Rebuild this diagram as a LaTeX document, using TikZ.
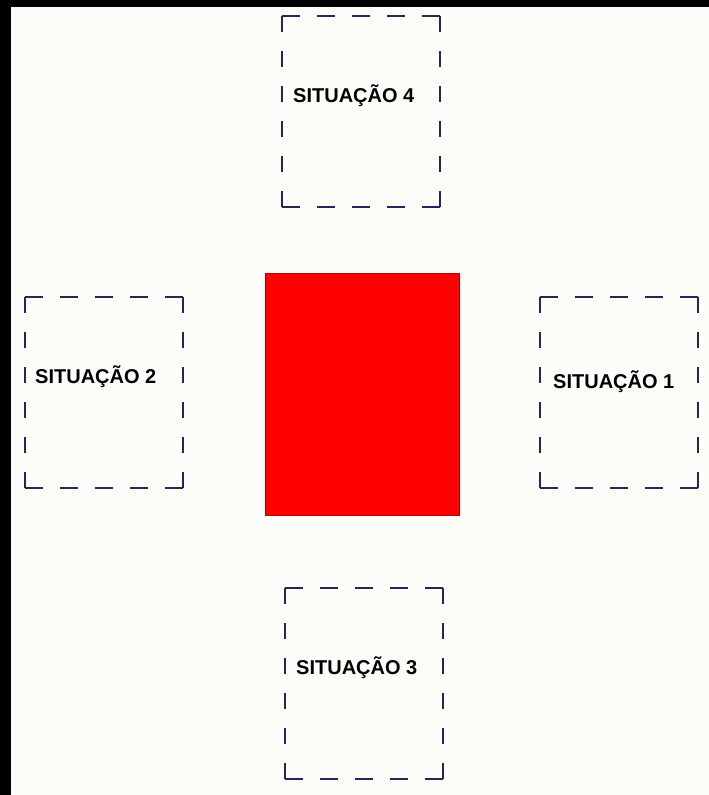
\documentclass[tikz,border=0pt]{standalone}
\usepackage{fontspec}
\setmainfont{Liberation Sans}
\definecolor{bgc}{HTML}{FCFDF8}
\definecolor{dashc}{HTML}{25255A}
\definecolor{redc}{HTML}{FF0000}
\newcommand\sitsides[1]{%
  \draw[hside] (#1.north west) -- (#1.north east);
  \draw[hside] (#1.south west) -- (#1.south east);
  \draw[vside] (#1.north west) -- (#1.south west);
  \draw[vside] (#1.north east) -- (#1.south east);}
\begin{document}
\begin{tikzpicture}[x=1pt,y=-1pt,
  sitbox/.style={rectangle,minimum width=158pt,minimum height=191pt,inner sep=0pt,outer sep=0pt,anchor=north west},
  hside/.style={draw=dashc,line width=2pt,line cap=butt,dash pattern=on 18pt off 17pt},
  vside/.style={draw=dashc,line width=2pt,line cap=butt,dash pattern=on 16pt off 19pt},
  lbl/.style={anchor=west,inner sep=0pt,font=\fontsize{20}{24}\selectfont\bfseries,text=black}]
\useasboundingbox (0,0) rectangle (709,795);
\fill[bgc] (0,0) rectangle (709,795);
\fill[black] (0,0) rectangle (11,795);
\fill[black] (0,0) rectangle (709,7);
% central red block
\node[rectangle,fill=redc,draw=red!70!black,line width=0.6pt,minimum width=194pt,minimum height=242pt,inner sep=0pt,outer sep=0pt,anchor=north west] (car) at (265,273) {};
% situation boxes
\node[sitbox] (s4) at (282,16) {};
\node[sitbox] (s2) at (25,297) {};
\node[sitbox] (s1) at (540,297) {};
\node[sitbox] (s3) at (285,588) {};
\sitsides{s4}
\sitsides{s2}
\sitsides{s1}
\sitsides{s3}
\node[lbl] (t4) at (293,96) {SITUAÇÃO 4};
\node[lbl] (t2) at (35,377) {SITUAÇÃO 2};
\node[lbl] (t1) at (553,382) {SITUAÇÃO 1};
\node[lbl] (t3) at (296,668) {SITUAÇÃO 3};
\end{tikzpicture}
\end{document}
